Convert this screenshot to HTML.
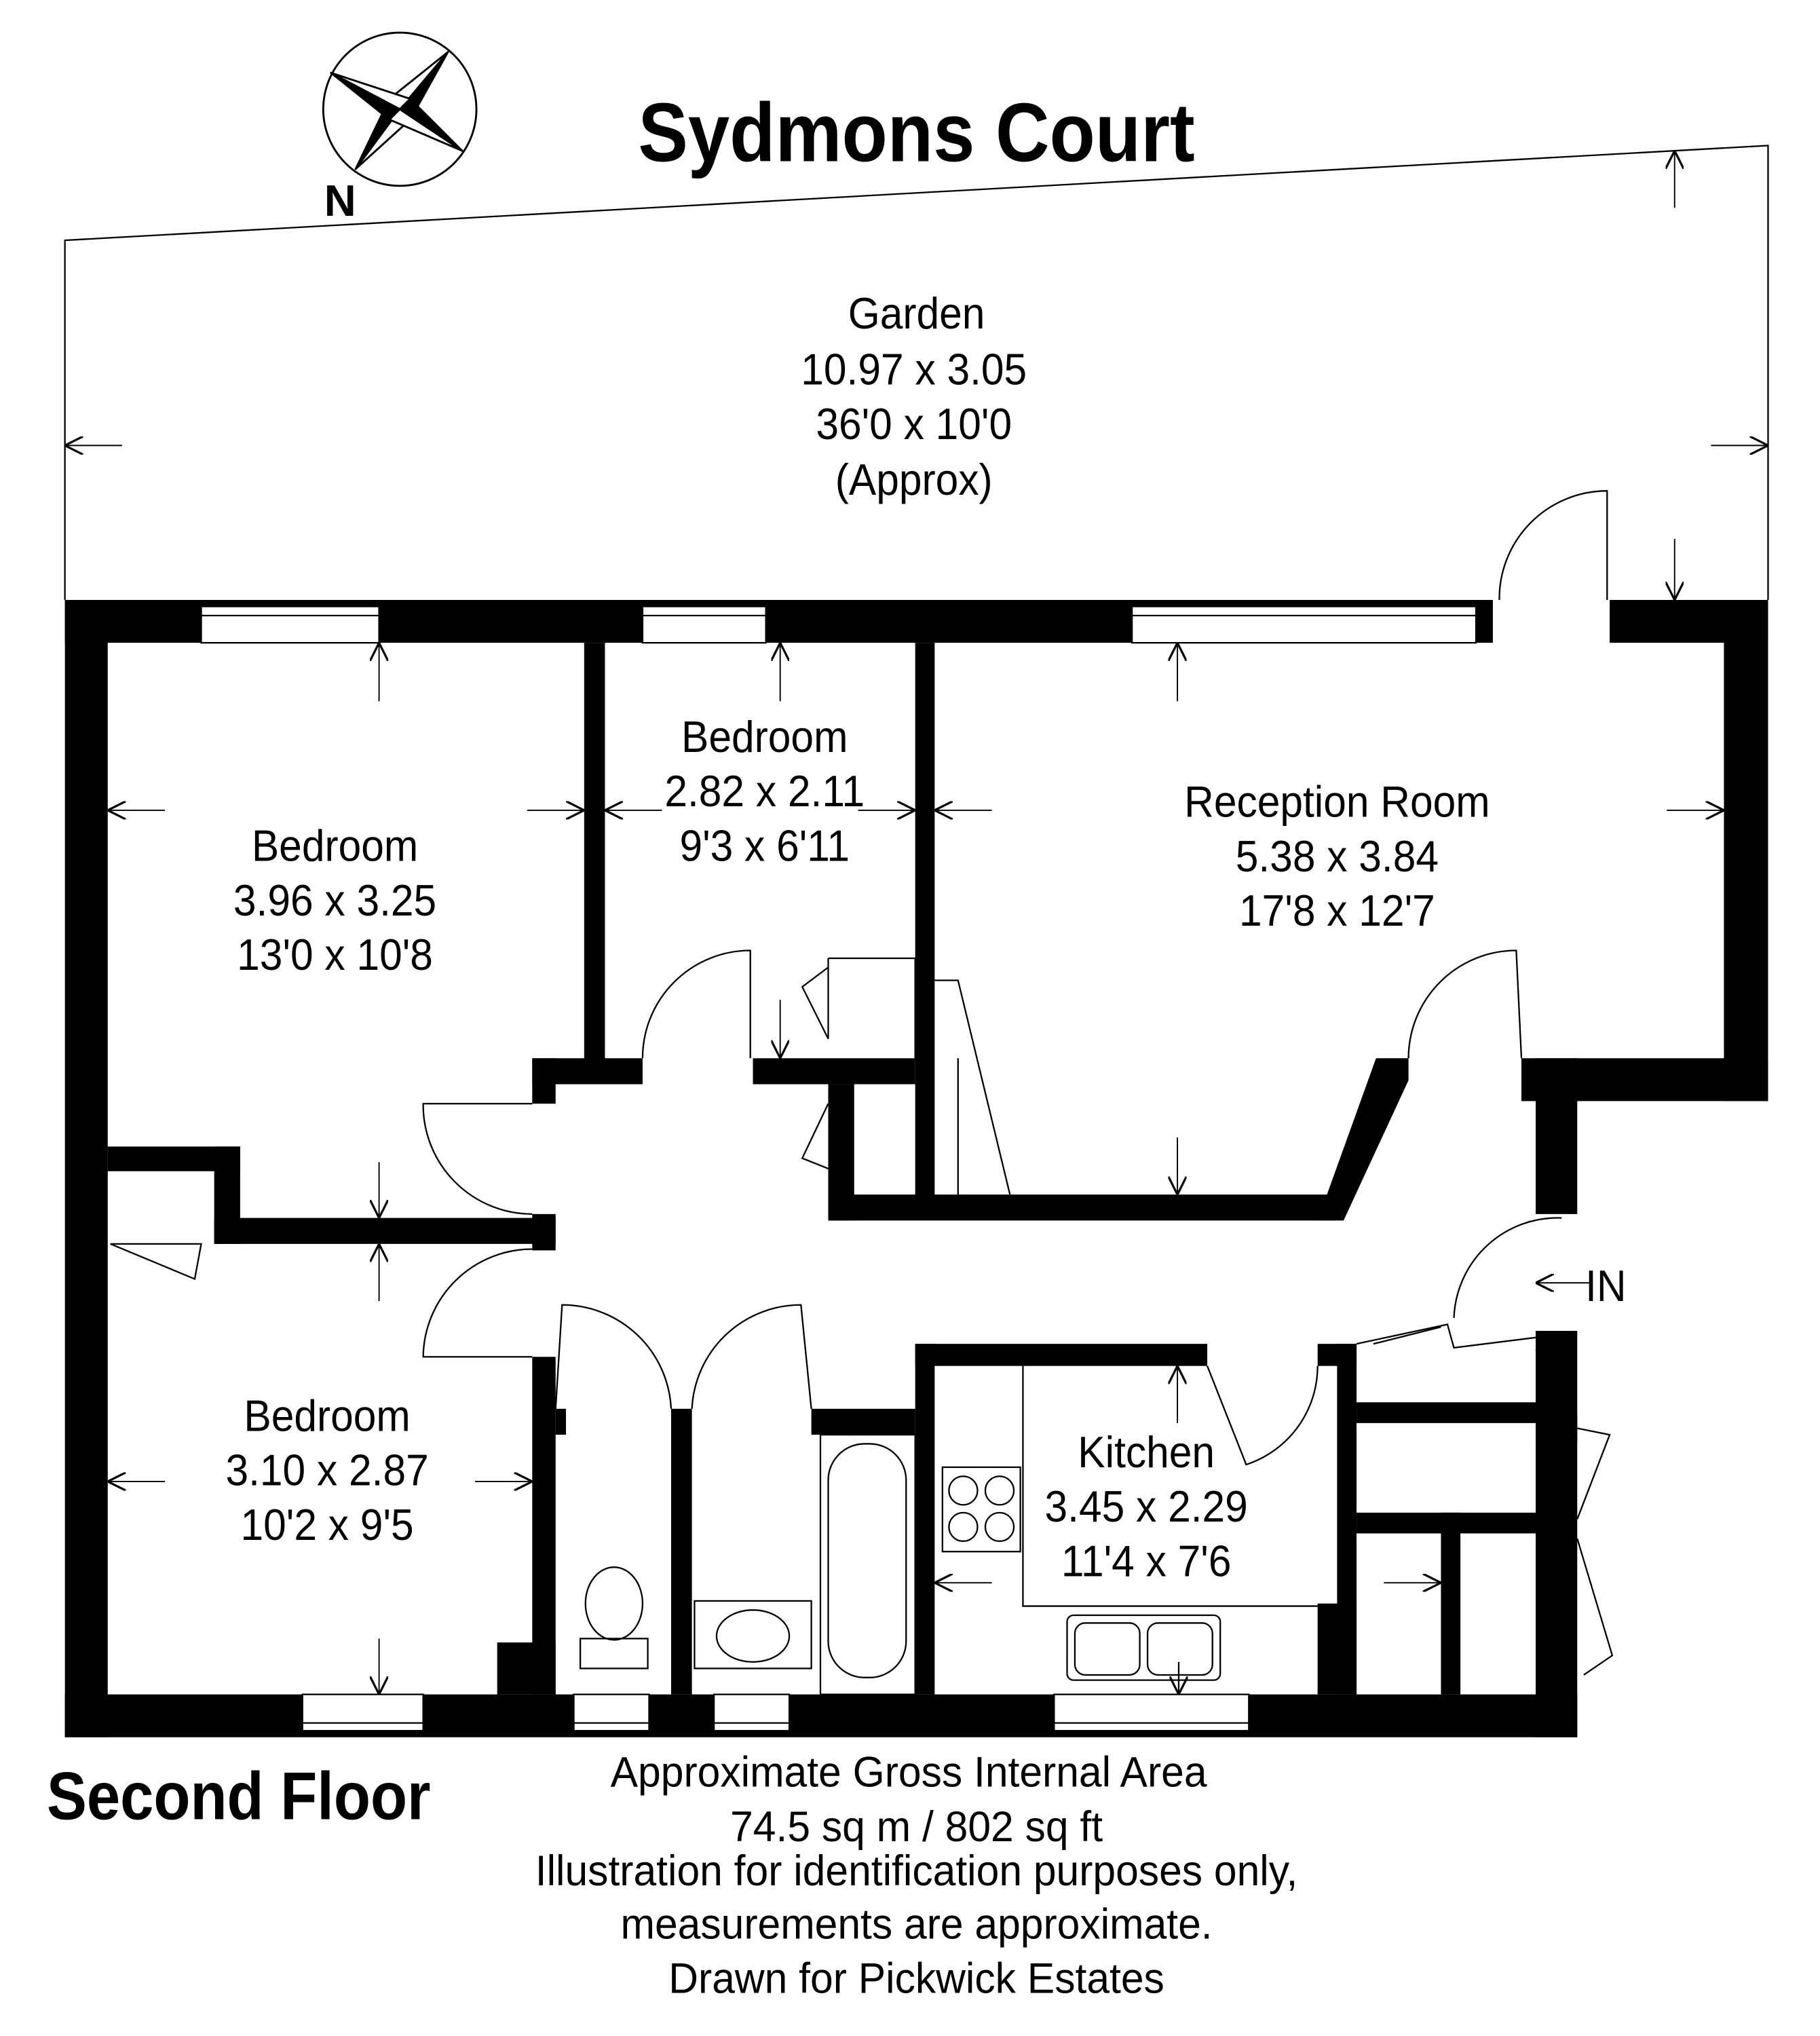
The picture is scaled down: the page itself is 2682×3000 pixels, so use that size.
<!DOCTYPE html>
<html><head><meta charset="utf-8"><style>
html,body{margin:0;padding:0;background:#fff}
svg{display:block}
text{font-family:"Liberation Sans Narrow","Liberation Sans",sans-serif;fill:#000}
</style></head><body>
<svg width="2682" height="3000" viewBox="0 0 1402 1568" xmlns="http://www.w3.org/2000/svg">
<defs><marker id="a" viewBox="0 0 10 10" refX="10" refY="5" markerWidth="14" markerHeight="14" markerUnits="userSpaceOnUse" orient="auto"><path d="M0,0 L10,5 L0,10" fill="none" stroke="#000" stroke-width="1.2"/></marker></defs>
<rect width="1402" height="1568" fill="#fff"/>
<!-- compass -->
<circle cx="308" cy="84" r="59" fill="none" stroke="#000" stroke-width="1.5"/>
<g stroke="#000" stroke-width="1.5" stroke-linejoin="round">
<polygon points="308,84 345,40 316,92" fill="#000"/>
<polygon points="308,84 345,40 300,76" fill="#fff"/>
<polygon points="308,84 274,130 300,76" fill="#000"/>
<polygon points="308,84 274,130 316,92" fill="#fff"/>
<polygon points="308,84 255,56 316,76" fill="#fff"/>
<polygon points="308,84 255,56 300,92" fill="#000"/>
<polygon points="308,84 356,116 300,92" fill="#fff"/>
<polygon points="308,84 356,116 316,76" fill="#000"/>
</g>
<text x="262" y="166" font-size="34" font-weight="bold" text-anchor="middle">N</text>
<text transform="translate(706,124) scale(0.9,1)" font-size="64" font-weight="bold" text-anchor="middle">Sydmons Court</text>
<!-- garden -->
<polyline points="50,462 50,185 1362,112 1362,462" fill="none" stroke="#000" stroke-width="1.2"/>
<line x1="94" y1="343" x2="50" y2="343" stroke="#000" marker-end="url(#a)"/>
<line x1="1318" y1="343" x2="1362" y2="343" stroke="#000" marker-end="url(#a)"/>
<line x1="1290" y1="160" x2="1290" y2="116" stroke="#000" marker-end="url(#a)"/>
<line x1="1290" y1="415" x2="1290" y2="462" stroke="#000" marker-end="url(#a)"/>
<!-- walls -->
<g fill="#000">
<rect x="50" y="462" width="1312" height="33"/>
<rect x="50" y="462" width="33" height="876"/>
<rect x="50" y="1305" width="1165" height="33"/>
<rect x="1328" y="462" width="34" height="386"/>
<rect x="1172" y="815" width="190" height="33"/>
<rect x="1183" y="815" width="32" height="120"/>
<rect x="1183" y="1025" width="32" height="313"/>
<rect x="450" y="495" width="16" height="335"/>
<rect x="705" y="495" width="15" height="430"/>
<rect x="410" y="815" width="85" height="20"/>
<rect x="580" y="815" width="125" height="20"/>
<rect x="410" y="815" width="18" height="35"/>
<rect x="410" y="935" width="18" height="28"/>
<rect x="165" y="938" width="263" height="20"/>
<rect x="83" y="883" width="102" height="19"/>
<rect x="165" y="883" width="20" height="75"/>
<rect x="638" y="920" width="390" height="20"/>
<polygon points="1015,940 1060,815 1085,815 1085,832 1035,940"/>
<rect x="638" y="835" width="20" height="105"/>
<rect x="410" y="1045" width="18" height="260"/>
<rect x="383" y="1265" width="45" height="40"/>
<rect x="428" y="1085" width="8" height="20"/>
<rect x="517" y="1085" width="16" height="220"/>
<rect x="625" y="1085" width="80" height="20"/>
<rect x="705" y="1035" width="15" height="270"/>
<rect x="705" y="1035" width="225" height="17"/>
<rect x="1015" y="1035" width="30" height="17"/>
<rect x="1030" y="1035" width="15" height="270"/>
<rect x="1015" y="1235" width="30" height="70"/>
<rect x="1045" y="1080" width="140" height="16"/>
<rect x="1045" y="1165" width="140" height="16"/>
<rect x="1110" y="1165" width="15" height="140"/>
<rect x="1183" y="1090" width="32" height="20"/>
</g>
<!-- windows -->
<g fill="#fff" stroke="#000" stroke-width="1.2">
<rect x="155" y="467" width="137" height="28"/><line x1="155" y1="474" x2="292" y2="474"/>
<rect x="495" y="467" width="95" height="28"/><line x1="495" y1="474" x2="590" y2="474"/>
<rect x="872" y="467" width="265" height="28"/><line x1="872" y1="474" x2="1137" y2="474"/>
<rect x="1150" y="461" width="90" height="35" stroke="none"/>
<rect x="233" y="1305" width="93" height="28"/><line x1="233" y1="1327" x2="326" y2="1327"/>
<rect x="442" y="1305" width="58" height="28"/><line x1="442" y1="1327" x2="500" y2="1327"/>
<rect x="550" y="1305" width="58" height="28"/><line x1="550" y1="1327" x2="608" y2="1327"/>
<rect x="812" y="1305" width="150" height="28"/><line x1="812" y1="1327" x2="962" y2="1327"/>
<rect x="1183" y="936" width="33" height="88" stroke="none"/>
</g>
<!-- doors -->
<g fill="none" stroke="#000" stroke-width="1.2">
<path d="M1155,462 A83,83 0 0 1 1238,378 L1238,462"/>
<path d="M495,815 A83,83 0 0 1 578,732 L578,815"/>
<path d="M410,850 L326,850 A84,84 0 0 0 410,935"/>
<path d="M410,962 A84,84 0 0 0 326,1045 L410,1045"/>
<path d="M428,1085 L433,1005 A84,84 0 0 1 517,1085"/>
<path d="M533,1085 A84,84 0 0 1 617,1005 L625,1085"/>
<path d="M1085,815 A83,83 0 0 1 1168,732 L1172,815"/>
<path d="M1120,1015 A80,80 0 0 1 1203,938"/>
<path d="M930,1052 L960,1128 A80,80 0 0 0 1015,1052"/>
<path d="M638,738 L705,738 L705,815 M638,738 L638,800 L618,760 L638,745 M638,850 L618,892 L638,900"/>
<path d="M720,755 L738,755 L778,920"/>
<path d="M738,815 L738,920"/>
<path d="M85,958 L155,958 L150,985 L85,958"/>
<path d="M1045,1035 L1115,1020 L1120,1038 L1200,1028 L1183,1040 M1058,1035 L1110,1022"/>
<path d="M1215,1100 L1240,1105 L1215,1170 M1215,1185 L1242,1275 L1220,1290"/>
<path d="M788,1052 L788,1237 L1015,1237"/>
</g>
<!-- fixtures -->
<g fill="none" stroke="#000" stroke-width="1.2">
<rect x="726" y="1130" width="60" height="65"/>
<circle cx="742" cy="1148" r="11"/><circle cx="770" cy="1148" r="11"/><circle cx="742" cy="1176" r="11"/><circle cx="770" cy="1176" r="11"/>
<rect x="822" y="1244" width="118" height="50" rx="5"/>
<rect x="828" y="1250" width="50" height="40" rx="8"/><rect x="884" y="1250" width="50" height="40" rx="8"/>
<rect x="632" y="1105" width="73" height="200"/>
<rect x="638" y="1112" width="60" height="180" rx="28"/>
<rect x="535" y="1233" width="90" height="52"/>
<ellipse cx="580" cy="1260" rx="28" ry="20"/>
<rect x="447" y="1262" width="52" height="23"/>
<ellipse cx="473" cy="1235" rx="22" ry="28"/>
<line x1="908" y1="1280" x2="908" y2="1305" marker-end="url(#a)"/>
</g>
<!-- dimension arrows -->
<g stroke="#000" stroke-width="1" marker-end="url(#a)">
<line x1="292" y1="540" x2="292" y2="495"/>
<line x1="292" y1="895" x2="292" y2="938"/>
<line x1="127" y1="624" x2="83" y2="624"/>
<line x1="406" y1="624" x2="450" y2="624"/>
<line x1="601" y1="540" x2="601" y2="495"/>
<line x1="601" y1="770" x2="601" y2="815"/>
<line x1="510" y1="624" x2="466" y2="624"/>
<line x1="661" y1="624" x2="705" y2="624"/>
<line x1="907" y1="540" x2="907" y2="495"/>
<line x1="907" y1="876" x2="907" y2="920"/>
<line x1="764" y1="624" x2="720" y2="624"/>
<line x1="1284" y1="624" x2="1328" y2="624"/>
<line x1="292" y1="1002" x2="292" y2="958"/>
<line x1="292" y1="1262" x2="292" y2="1305"/>
<line x1="127" y1="1141" x2="83" y2="1141"/>
<line x1="366" y1="1141" x2="410" y2="1141"/>
<line x1="907" y1="1096" x2="907" y2="1052"/>
<line x1="764" y1="1219" x2="720" y2="1219"/>
<line x1="1066" y1="1219" x2="1110" y2="1219"/>
<line x1="1225" y1="988" x2="1183" y2="988"/>
</g>
<g font-size="34" text-anchor="middle">
<text transform="translate(706,253) scale(.93,1)">Garden</text><text transform="translate(704,296) scale(.93,1)">10.97 x 3.05</text><text transform="translate(704,338) scale(.93,1)">36'0 x 10'0</text><text transform="translate(704,381) scale(.93,1)">(Approx)</text>
<text transform="translate(258,663) scale(.93,1)">Bedroom</text><text transform="translate(258,705) scale(.93,1)">3.96 x 3.25</text><text transform="translate(258,747) scale(.93,1)">13'0 x 10'8</text>
<text transform="translate(589,579) scale(.93,1)">Bedroom</text><text transform="translate(589,621) scale(.93,1)">2.82 x 2.11</text><text transform="translate(589,663) scale(.93,1)">9'3 x 6'11</text>
<text transform="translate(1030,629) scale(.93,1)">Reception Room</text><text transform="translate(1030,671) scale(.93,1)">5.38 x 3.84</text><text transform="translate(1030,713) scale(.93,1)">17'8 x 12'7</text>
<text transform="translate(252,1102) scale(.93,1)">Bedroom</text><text transform="translate(252,1144) scale(.93,1)">3.10 x 2.87</text><text transform="translate(252,1186) scale(.93,1)">10'2 x 9'5</text>
<text transform="translate(883,1130) scale(.93,1)">Kitchen</text><text transform="translate(883,1172) scale(.93,1)">3.45 x 2.29</text><text transform="translate(883,1214) scale(.93,1)">11'4 x 7'6</text>
<text transform="translate(1237,1002) scale(.93,1)">IN</text>
<g font-size="33">
<text transform="translate(700,1376) scale(.96,1)">Approximate Gross Internal Area</text>
<text transform="translate(706,1418) scale(.96,1)">74.5 sq m / 802 sq ft</text>
<text transform="translate(706,1452) scale(.96,1)">Illustration for identification purposes only,</text>
<text transform="translate(706,1493) scale(.96,1)">measurements are approximate.</text>
<text transform="translate(706,1535) scale(.96,1)">Drawn for Pickwick Estates</text>
</g>
</g>
<text transform="translate(36,1401) scale(.89,1)" font-size="52" font-weight="bold">Second Floor</text>
</svg>
</body></html>
